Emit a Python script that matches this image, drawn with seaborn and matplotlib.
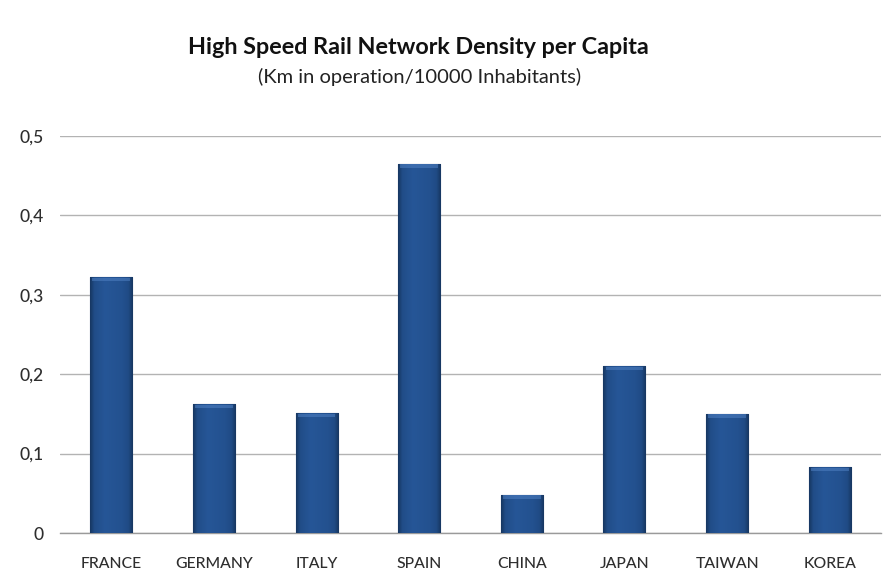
import matplotlib
matplotlib.use("Agg")
import matplotlib.pyplot as plt
import numpy as np
import pandas as pd
import seaborn as sns
from matplotlib.colors import LinearSegmentedColormap

countries = ["FRANCE", "GERMANY", "ITALY", "SPAIN", "CHINA", "JAPAN", "TAIWAN", "KOREA"]
density = [0.322, 0.162, 0.151, 0.465, 0.048, 0.210, 0.150, 0.083]
y_ticks = [0, 0.1, 0.2, 0.3, 0.4, 0.5]
y_tick_labels = ["0", "0,1", "0,2", "0,3", "0,4", "0,5"]

df = pd.DataFrame({"country": countries, "density": density})

sns.set_theme(style="white")
plt.rcParams["font.family"] = ["Lato", "DejaVu Sans"]

fig = plt.figure(figsize=(8.89, 5.85), dpi=100)
ax = fig.add_axes([60 / 889, 1 - 533 / 585, (881 - 60) / 889, (533 - 136) / 585])

sns.barplot(data=df, x="country", y="density", color="#23518f", width=0.41,
            saturation=1, ax=ax, zorder=3)

# bevelled shading inside each bar: dark thin sides, flat blue face
shade = LinearSegmentedColormap.from_list(
    "bevel", [(0.0, "#163660"), (0.10, "#214d88"), (0.35, "#265697"),
              (0.75, "#23518f"), (0.90, "#204b85"), (1.0, "#163660")])
grad = np.linspace(0, 1, 128).reshape(1, -1)
for p in ax.patches:
    x0, y0 = p.get_x(), p.get_y()
    w, h = p.get_width(), p.get_height()
    p.set_edgecolor("#173660")
    p.set_linewidth(0.8)
    im = ax.imshow(grad, cmap=shade, aspect="auto", extent=[x0, x0 + w, y0, y0 + h],
                   zorder=3.5, interpolation="bicubic")
    im.set_clip_path(p)
    # lighter rim along the top edge
    ax.fill_between([x0 + w * 0.05, x0 + w * 0.95], y0 + h - 0.005, y0 + h - 0.0006,
                    color="#4f80c2", alpha=0.55, zorder=3.6, linewidth=0)

ax.set_xlim(-0.5, len(countries) - 0.5)
ax.set_ylim(0, 0.5)
ax.set_yticks(y_ticks)
ax.set_yticklabels(y_tick_labels)
ax.yaxis.grid(True, color="#b3b3b3", linewidth=1.0, zorder=0)
ax.set_axisbelow(True)

for side in ["left", "right", "top"]:
    ax.spines[side].set_visible(False)
ax.spines["bottom"].set_color("#9a9a9a")
ax.spines["bottom"].set_linewidth(1.0)

ax.set_xticks(np.arange(len(countries)))
ax.set_xticklabels(countries)
ax.set_xticks(np.arange(len(countries) + 1) - 0.5, minor=True)
ax.tick_params(axis="x", which="major", length=0, pad=17, labelsize=11.3, colors="#2e2e2e")
ax.tick_params(axis="x", which="minor", length=5, width=1, color="#9a9a9a", direction="out")
ax.tick_params(axis="y", length=0, pad=12, labelsize=12.5, colors="#2e2e2e")
for lbl in ax.get_xticklabels() + ax.get_yticklabels():
    lbl.set_fontweight("medium")
ax.set_xlabel("")
ax.set_ylabel("")

fig.text(418 / 889, 1 - 48 / 585, "High Speed Rail Network Density per Capita",
         ha="center", va="center", fontsize=16.8, fontweight="bold", color="#111111")
fig.text(420 / 889, 1 - 77 / 585, "(Km in operation/10000 Inhabitants)",
         ha="center", va="center", fontsize=14.5, color="#222222")

fig.savefig("out.png", dpi=100, facecolor="white")
